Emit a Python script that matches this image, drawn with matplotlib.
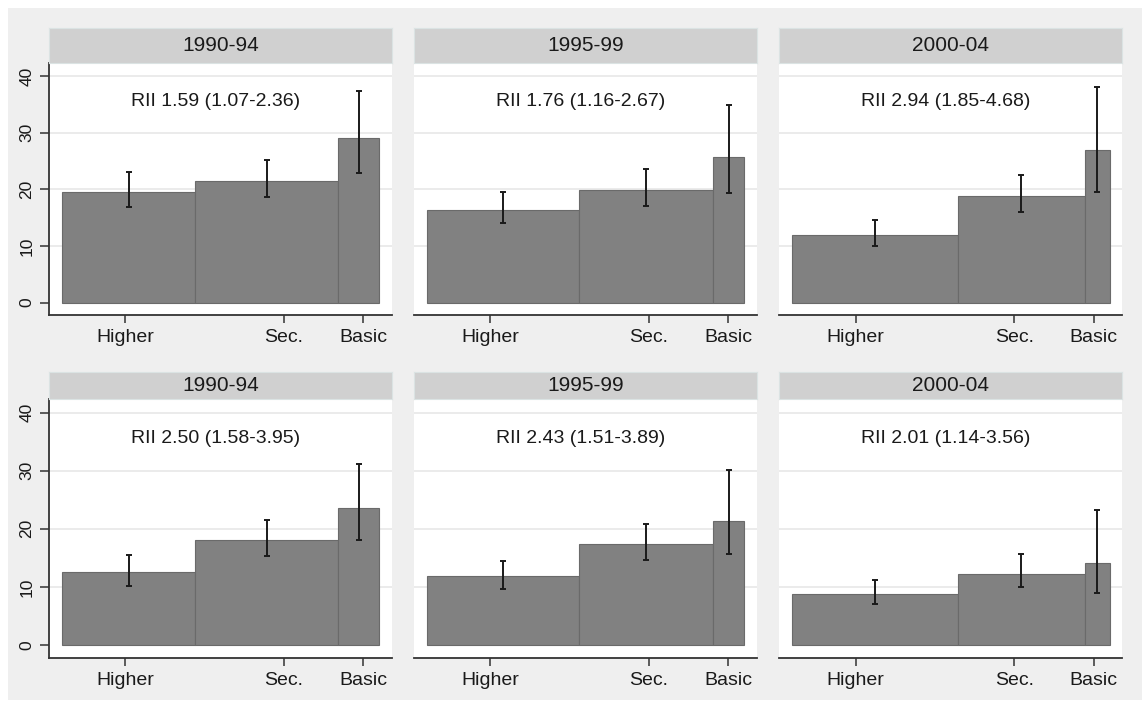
import matplotlib.pyplot as plt
from matplotlib.patches import Rectangle

plt.rcParams['font.family'] = ['Liberation Sans', 'DejaVu Sans']

periods = ["1990-94", "1995-99", "2000-04"]
edu_groups = ["Higher", "Sec.", "Basic"]
edu_tick_pos = [0.20, 0.70, 0.95]
y_ticks = [0, 10, 20, 30, 40]

# population share of each education group (bar widths), per period
share_1990 = [0.421, 0.449, 0.130]
share_1995 = [0.478, 0.423, 0.099]
share_2000 = [0.524, 0.397, 0.079]

# upper row: rates with 95% CI
rate_row1 = [[19.6, 21.5, 29.1], [16.4, 19.9, 25.7], [12.0, 18.8, 26.9]]
lo_row1 = [[16.8, 18.7, 22.9], [14.0, 17.0, 19.3], [9.9, 16.0, 19.6]]
hi_row1 = [[23.1, 25.1, 37.4], [19.5, 23.5, 34.9], [14.6, 22.6, 38.1]]
rii_row1 = ["RII 1.59 (1.07-2.36)", "RII 1.76 (1.16-2.67)", "RII 2.94 (1.85-4.68)"]

# lower row: rates with 95% CI
rate_row2 = [[12.5, 18.1, 23.5], [11.8, 17.3, 21.3], [8.8, 12.3, 14.1]]
lo_row2 = [[10.2, 15.4, 18.0], [9.7, 14.6, 15.6], [7.1, 10.0, 9.0]]
hi_row2 = [[15.5, 21.5, 31.2], [14.5, 20.8, 30.2], [11.2, 15.6, 23.2]]
rii_row2 = ["RII 2.50 (1.58-3.95)", "RII 2.43 (1.51-3.89)", "RII 2.01 (1.14-3.56)"]

shares = [share_1990, share_1995, share_2000]
rows = [(rate_row1, lo_row1, hi_row1, rii_row1),
        (rate_row2, lo_row2, hi_row2, rii_row2)]

W, H = 1144, 702
fig = plt.figure(figsize=(W / 100, H / 100), dpi=100)
fig.patch.set_facecolor('white')

# outer graph region
fig.patches.append(Rectangle((8 / W, 2 / H), (1142 - 8) / W, (700 - 8) / H,
                             transform=fig.transFigure, facecolor='#efefef',
                             edgecolor='none', zorder=-10))

col_left = [49, 414, 779.3]
col_width = 343
# (strip top, axes top, axes bottom) in pixels from the top
row_geom = [(28, 63, 315), (371.7, 399.3, 657.7)]

bar_color = '#818181'
edge_color = '#6a6a6a'

def fx(px):
    return px / W

def fy(py):
    return 1 - py / H

for r, (rates, los, his, riis) in enumerate(rows):
    s_top, a_top, a_bot = row_geom[r]
    for c in range(3):
        left = col_left[c]
        ax = fig.add_axes([fx(left), fy(a_bot), col_width / W, (a_bot - a_top) / H])
        ax.set_facecolor('white')

        widths = shares[c]
        edges = [0.0]
        for w in widths[:-1]:
            edges.append(edges[-1] + w)
        centers = [e + w / 2 for e, w in zip(edges, widths)]
        vals = rates[c]
        lo = los[c]
        hi = his[c]

        for yt in y_ticks[1:]:
            ax.axhline(yt, color='#e8e8e8', lw=1.2, zorder=0)

        ax.bar(edges, vals, width=widths, align='edge', color=bar_color,
               edgecolor=edge_color, linewidth=0.8, zorder=2)
        yerr = [[v - l for v, l in zip(vals, lo)], [h - v for v, h in zip(vals, hi)]]
        ax.errorbar(centers, vals, yerr=yerr, fmt='none', ecolor='#1a1a1a',
                    elinewidth=1.4, capsize=2.4, capthick=1.4, zorder=3)

        ax.text(0.485, 35.5, riis[c], ha='center', va='center', fontsize=14,
                color='#1a1a1a', zorder=4)

        ax.set_xlim(-0.04, 1.04)
        ax.set_ylim(-2.2, 42.3)
        ax.set_xticks(edu_tick_pos)
        ax.set_xticklabels(edu_groups, fontsize=14, color='#1a1a1a')
        ax.tick_params(axis='x', length=6, width=1.1, color='#333333', pad=4)

        for side in ['top', 'right']:
            ax.spines[side].set_visible(False)
        ax.spines['bottom'].set_color('#333333')
        ax.spines['bottom'].set_linewidth(1.3)

        if c == 0:
            ax.set_yticks(y_ticks)
            ax.set_yticklabels([str(v) for v in y_ticks], fontsize=12.5,
                               rotation=90, va='center', color='#1a1a1a')
            ax.tick_params(axis='y', length=6.5, width=1.1, color='#333333', pad=4)
            ax.spines['left'].set_color('#333333')
            ax.spines['left'].set_linewidth(1.3)
        else:
            ax.set_yticks([])
            ax.spines['left'].set_visible(False)

        # strip with period label
        sax = fig.add_axes([fx(left), fy(a_top), col_width / W, (a_top - s_top) / H])
        sax.set_facecolor('#d0d0d0')
        sax.set_xticks([])
        sax.set_yticks([])
        for sp in sax.spines.values():
            sp.set_color('#dbe3e3')
            sp.set_linewidth(0.8)
        sax.text(0.5, 0.5, periods[c], ha='center', va='center', fontsize=15,
                 color='#1a1a1a', transform=sax.transAxes)

fig.savefig('out.png', dpi=100, facecolor=fig.get_facecolor())
